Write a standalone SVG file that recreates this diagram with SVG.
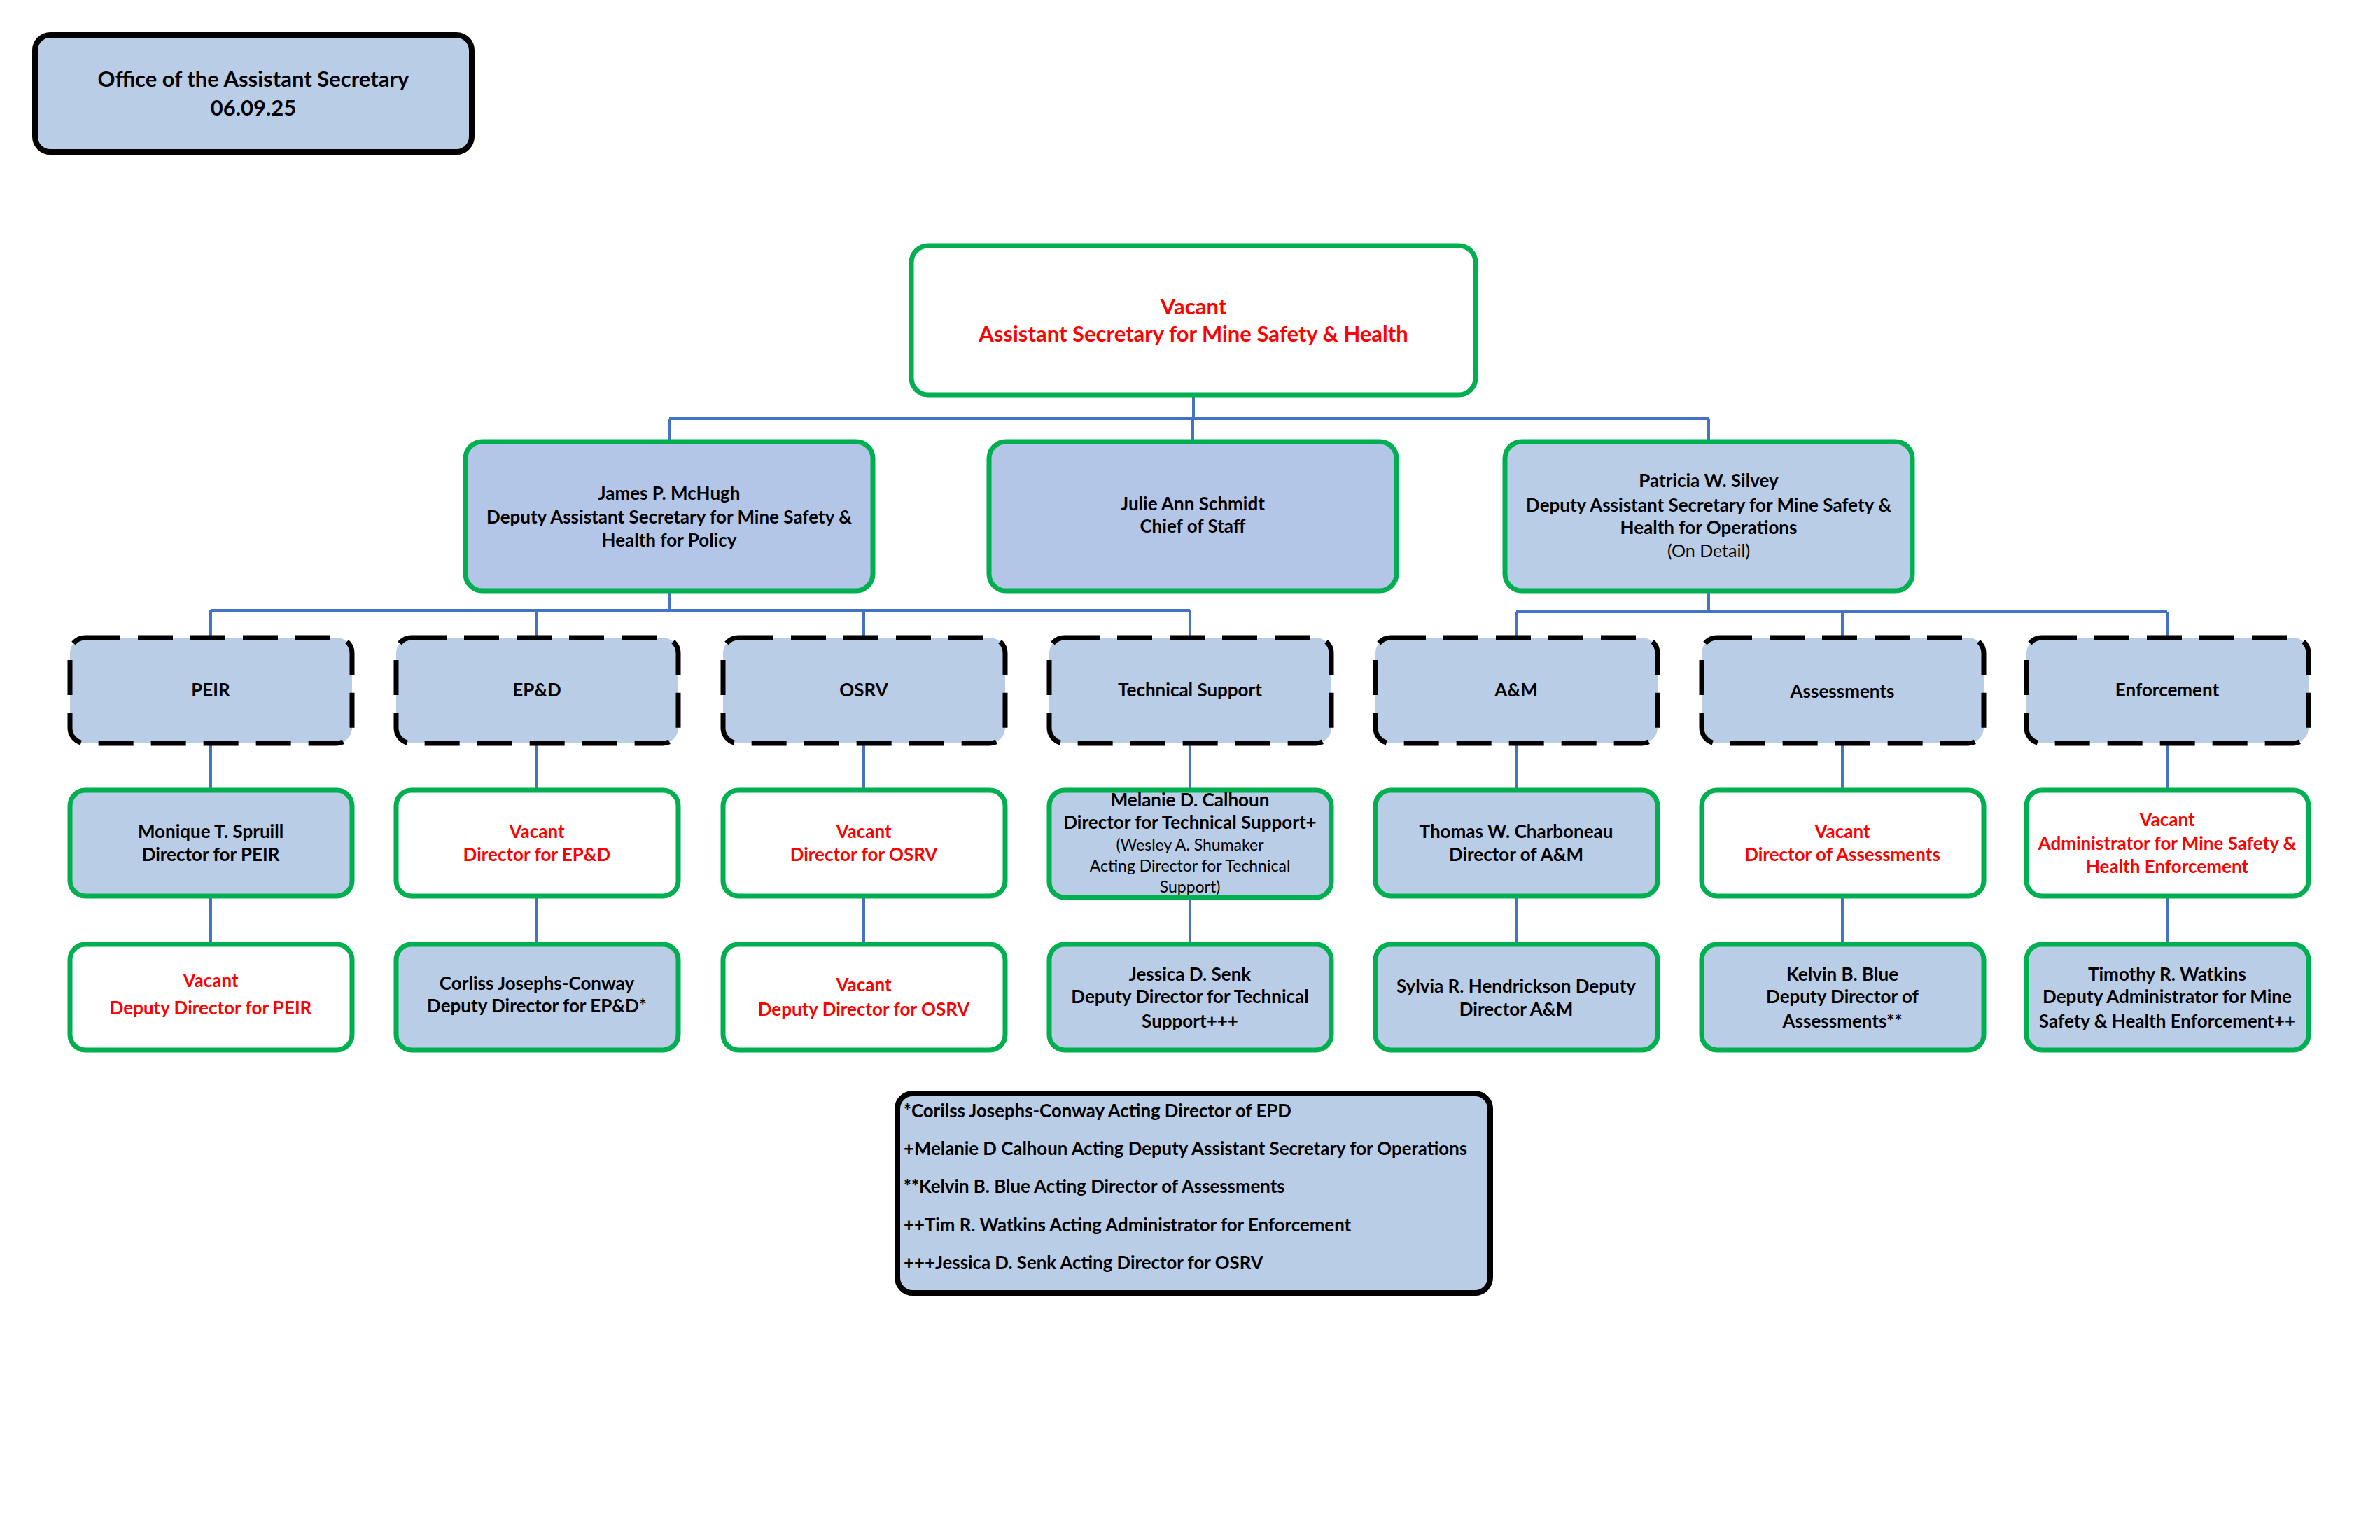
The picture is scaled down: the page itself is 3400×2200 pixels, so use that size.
<svg xmlns="http://www.w3.org/2000/svg" width="3400" height="2200" viewBox="0 0 3400 2200">
<style>
.bg{fill:#ffffff}
.blue{fill:#B9CDE6}
.blue2{fill:#B4C6E7}
.white{fill:#ffffff}
.green{stroke:#00B050;stroke-width:7}
.black{stroke:#000000;stroke-width:8}
.dash{stroke:#000000;stroke-width:7;stroke-dasharray:50 25}
.conn{stroke:#4472C4;stroke-width:4;fill:none}
text{font-family:Lato,"Liberation Sans",sans-serif;font-weight:bold;text-anchor:middle;fill:#000000;font-size:26px}
.red{fill:#FF0000}
.reg{font-weight:normal}
.big{font-size:31px}
.small{font-size:23px}
.mid{font-size:25px}
.note{text-anchor:start;font-size:25.8px}
</style>
<rect class="bg" x="0" y="0" width="3400" height="2200"/>

<g id="connectors">
<path class="conn" d="M1705 566V598M956 598H2441M956 598V629M1704 598V629M2441 598V629"/>
<path class="conn" d="M956 846V872M301 872H1700M301 872V909M767 872V909M1234 872V909M1700 872V909"/>
<path class="conn" d="M2441 846V874M2166 874H3096M2166 874V909M2632 874V909M3096 874V909"/>
<path class="conn" d="M301 1064V1127M767 1064V1127M1234 1064V1127M1700 1064V1127M2166 1064V1127M2632 1064V1127M3096 1064V1127"/>
<path class="conn" d="M301 1282V1347M767 1282V1347M1234 1282V1347M1700 1282V1347M2166 1282V1347M2632 1282V1347M3096 1282V1347"/>
</g>

<g id="office">
<rect class="blue black" x="50" y="50" width="624" height="167" rx="22"/>
<text class="big" x="362" y="124">Office of the Assistant Secretary</text>
<text class="big" x="362" y="165">06.09.25</text>
</g>

<g id="asst-secretary">
<rect class="white green" x="1302" y="351" width="806" height="213" rx="24"/>
<text class="big red" x="1705" y="449">Vacant</text>
<text class="big red" x="1705" y="488">Assistant Secretary for Mine Safety &amp; Health</text>
</g>

<g id="mchugh">
<rect class="blue2 green" x="665" y="631" width="582" height="213" rx="24"/>
<text x="956" y="714">James P. McHugh</text>
<text x="956" y="748">Deputy Assistant Secretary for Mine Safety &amp;</text>
<text x="956" y="781">Health for Policy</text>
</g>

<g id="schmidt">
<rect class="blue2 green" x="1413" y="631" width="582" height="213" rx="24"/>
<text x="1704" y="729">Julie Ann Schmidt</text>
<text x="1704" y="761">Chief of Staff</text>
</g>

<g id="silvey">
<rect class="blue green" x="2150" y="631" width="582" height="213" rx="24"/>
<text x="2441" y="696">Patricia W. Silvey</text>
<text x="2441" y="731">Deputy Assistant Secretary for Mine Safety &amp;</text>
<text x="2441" y="763">Health for Operations</text>
<text class="reg mid" x="2441" y="796">(On Detail)</text>
</g>

<g id="peir">
<rect class="blue dash" x="100" y="911" width="403" height="151" rx="22"/>
<text x="301" y="995">PEIR</text>
</g>
<g id="epd">
<rect class="blue dash" x="566" y="911" width="403" height="151" rx="22"/>
<text x="767" y="995">EP&amp;D</text>
</g>
<g id="osrv">
<rect class="blue dash" x="1033" y="911" width="403" height="151" rx="22"/>
<text x="1234" y="995">OSRV</text>
</g>
<g id="techsupport">
<rect class="blue dash" x="1499" y="911" width="403" height="151" rx="22"/>
<text x="1700" y="995">Technical Support</text>
</g>
<g id="am">
<rect class="blue dash" x="1965" y="911" width="403" height="151" rx="22"/>
<text x="2166" y="995">A&amp;M</text>
</g>
<g id="assessments">
<rect class="blue dash" x="2431" y="911" width="403" height="151" rx="22"/>
<text x="2632" y="997">Assessments</text>
</g>
<g id="enforcement">
<rect class="blue dash" x="2895" y="911" width="403" height="151" rx="22"/>
<text x="3096" y="995">Enforcement</text>
</g>

<g id="peir-director">
<rect class="blue green" x="100" y="1129" width="403" height="151" rx="22"/>
<text x="301" y="1197">Monique T. Spruill</text>
<text x="301" y="1230">Director for PEIR</text>
</g>
<g id="epd-director">
<rect class="white green" x="566" y="1129" width="403" height="151" rx="22"/>
<text class="red" x="767" y="1197">Vacant</text>
<text class="red" x="767" y="1230">Director for EP&amp;D</text>
</g>
<g id="osrv-director">
<rect class="white green" x="1033" y="1129" width="403" height="151" rx="22"/>
<text class="red" x="1234" y="1197">Vacant</text>
<text class="red" x="1234" y="1230">Director for OSRV</text>
</g>
<g id="tech-director">
<rect class="blue green" x="1499" y="1129" width="403" height="153" rx="22"/>
<text x="1700" y="1152">Melanie D. Calhoun</text>
<text x="1700" y="1184">Director for Technical Support+</text>
<text class="reg small" x="1700" y="1215">(Wesley A. Shumaker</text>
<text class="reg small" x="1700" y="1245">Acting Director for Technical</text>
<text class="reg small" x="1700" y="1275">Support)</text>
</g>
<g id="am-director">
<rect class="blue green" x="1965" y="1129" width="403" height="151" rx="22"/>
<text x="2166" y="1197">Thomas W. Charboneau</text>
<text x="2166" y="1230">Director of A&amp;M</text>
</g>
<g id="assessments-director">
<rect class="white green" x="2431" y="1129" width="403" height="151" rx="22"/>
<text class="red" x="2632" y="1197">Vacant</text>
<text class="red" x="2632" y="1230">Director of Assessments</text>
</g>
<g id="enforcement-administrator">
<rect class="white green" x="2895" y="1129" width="403" height="151" rx="22"/>
<text class="red" x="3096" y="1180">Vacant</text>
<text class="red" x="3096" y="1214">Administrator for Mine Safety &amp;</text>
<text class="red" x="3096" y="1247">Health Enforcement</text>
</g>

<g id="peir-deputy">
<rect class="white green" x="100" y="1349" width="403" height="151" rx="22"/>
<text class="red" x="301" y="1410">Vacant</text>
<text class="red" x="301" y="1449">Deputy Director for PEIR</text>
</g>
<g id="epd-deputy">
<rect class="blue green" x="566" y="1349" width="403" height="151" rx="22"/>
<text x="767" y="1414">Corliss Josephs-Conway</text>
<text x="767" y="1446">Deputy Director for EP&amp;D*</text>
</g>
<g id="osrv-deputy">
<rect class="white green" x="1033" y="1349" width="403" height="151" rx="22"/>
<text class="red" x="1234" y="1416">Vacant</text>
<text class="red" x="1234" y="1451">Deputy Director for OSRV</text>
</g>
<g id="tech-deputy">
<rect class="blue green" x="1499" y="1349" width="403" height="151" rx="22"/>
<text x="1700" y="1401">Jessica D. Senk</text>
<text x="1700" y="1433">Deputy Director for Technical</text>
<text x="1700" y="1468">Support+++</text>
</g>
<g id="am-deputy">
<rect class="blue green" x="1965" y="1349" width="403" height="151" rx="22"/>
<text x="2166" y="1418">Sylvia R. Hendrickson Deputy</text>
<text x="2166" y="1451">Director A&amp;M</text>
</g>
<g id="assessments-deputy">
<rect class="blue green" x="2431" y="1349" width="403" height="151" rx="22"/>
<text x="2632" y="1401">Kelvin B. Blue</text>
<text x="2632" y="1433">Deputy Director of</text>
<text x="2632" y="1468">Assessments**</text>
</g>
<g id="enforcement-deputy">
<rect class="blue green" x="2895" y="1349" width="403" height="151" rx="22"/>
<text x="3096" y="1401">Timothy R. Watkins</text>
<text x="3096" y="1433">Deputy Administrator for Mine</text>
<text x="3096" y="1468">Safety &amp; Health Enforcement++</text>
</g>

<g id="footnotes">
<rect class="blue black" x="1282" y="1562" width="847" height="285" rx="22"/>
<text class="note" x="1291" y="1596">*Corilss Josephs-Conway Acting Director of EPD</text>
<text class="note" x="1291" y="1650">+Melanie D Calhoun Acting Deputy Assistant Secretary for Operations</text>
<text class="note" x="1291" y="1704">**Kelvin B. Blue Acting Director of Assessments</text>
<text class="note" x="1291" y="1759">++Tim R. Watkins Acting Administrator for Enforcement</text>
<text class="note" x="1291" y="1813">+++Jessica D. Senk Acting Director for OSRV</text>
</g>
</svg>
